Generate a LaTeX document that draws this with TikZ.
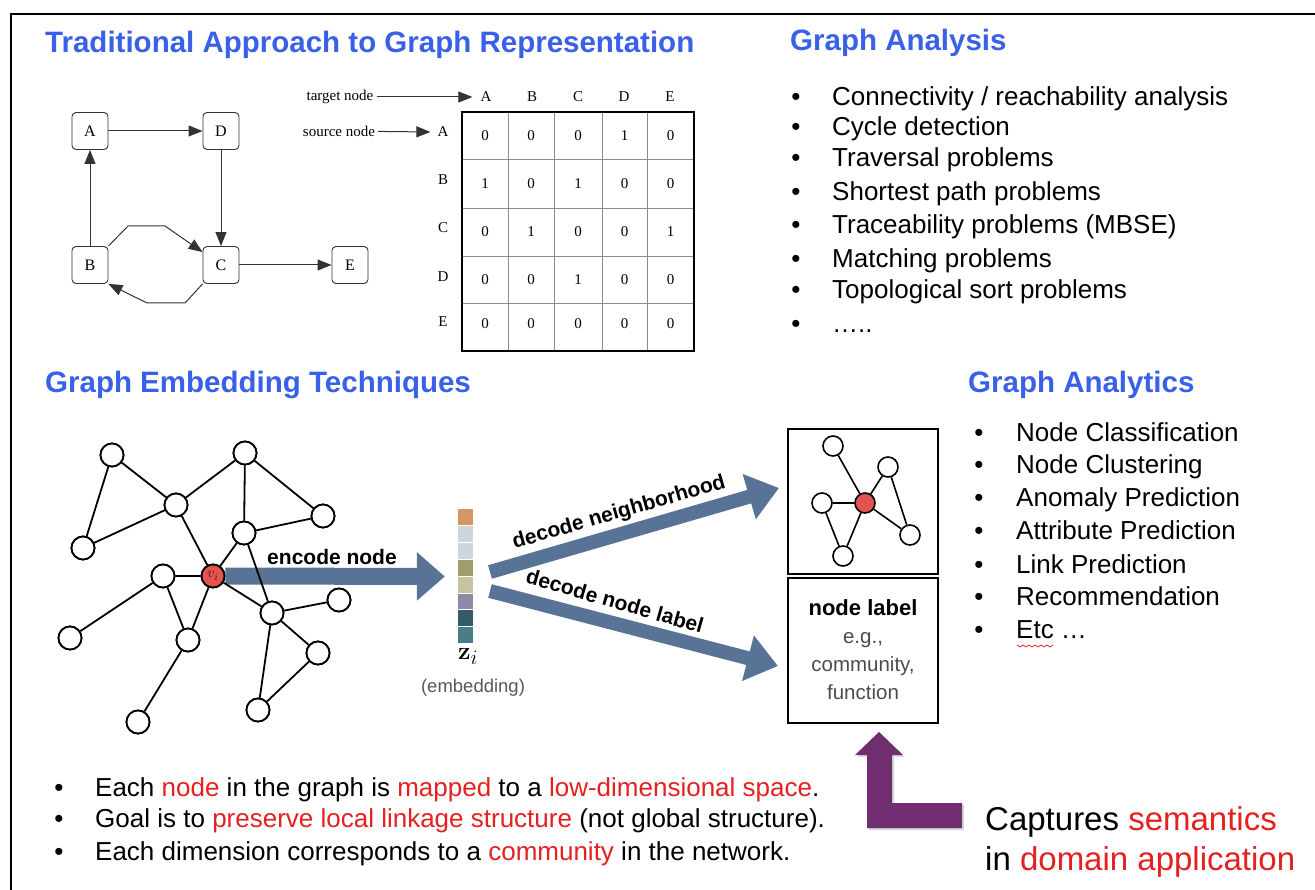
\documentclass[tikz,border=0pt]{standalone}
\usepackage[no-math]{fontspec}
\setmainfont{Liberation Sans}
\newfontfamily\timesfnt{Liberation Serif}
\usetikzlibrary{arrows.meta,calc}
\definecolor{hblue}{RGB}{56,96,232}
\definecolor{tred}{RGB}{228,32,32}
\definecolor{arrblue}{RGB}{88,115,150}
\definecolor{nred}{RGB}{226,84,80}
\definecolor{purp}{RGB}{112,46,112}
\definecolor{eA}{RGB}{214,150,100}
\definecolor{eB}{RGB}{206,214,220}
\definecolor{eC}{RGB}{158,158,110}
\definecolor{eD}{RGB}{196,196,158}
\definecolor{eE}{RGB}{140,138,165}
\definecolor{eF}{RGB}{52,92,104}
\definecolor{eG}{RGB}{74,124,140}
\begin{document}
\begin{tikzpicture}[x=1pt,y=-1pt,
  heading/.style={font=\fontsize{29.5}{34}\selectfont\bfseries, text=hblue, anchor=base west, inner sep=0},
  item/.style={font=\fontsize{26}{31}\selectfont, anchor=base west, inner sep=0},
  bul/.style={font=\fontsize{26}{31}\selectfont, anchor=base, inner sep=0},
  gnode/.style={draw=black!80, rounded corners=4pt, minimum width=36pt, minimum height=37pt, line width=0.9pt, font=\timesfnt\fontsize{16}{18}\selectfont, inner sep=0},
  garrow/.style={draw=black!80, line width=1pt, -{Triangle[length=14pt,width=11pt]}},
  mtxt/.style={font=\timesfnt\fontsize{15}{17}\selectfont, inner sep=1pt},
  cnode/.style={circle, draw, line width=1.8pt, minimum size=23pt, inner sep=0, fill=white},
  snode/.style={circle, draw, line width=1.6pt, minimum size=20pt, inner sep=0, fill=white},
  cedge/.style={line width=1.8pt},
  bigarrow/.style={draw=arrblue},
  lbl/.style={font=\fontsize{21}{24}\selectfont\bfseries, inner sep=0}
]
\useasboundingbox (0,0) rectangle (1315,890);
\fill[white] (0,0) rectangle (1315,890);
\draw[line width=2.6pt] (11,890) -- (11,14) -- (1315,14);

% headings
\node[heading] (h1) at (45,53) {Traditional Approach to Graph Representation};
\node[heading] (h2) at (790,51) {Graph Analysis};
\node[heading] (h3) at (45,393) {Graph Embedding Techniques};
\node[heading] (h4) at (968,393) {Graph Analytics};

% Graph Analysis list
\foreach \y [count=\i] in {106,136,167,201,234,268,299,333} {
  \node[bul] (ga\i) at (796,\y) {•};
}
\node[item] (gt1) at (832,106) {Connectivity / reachability analysis};
\node[item] (gt2) at (832,136) {Cycle detection};
\node[item] (gt3) at (832,167) {Traversal problems};
\node[item] (gt4) at (832,201) {Shortest path problems};
\node[item] (gt5) at (832,234) {Traceability problems (MBSE)};
\node[item] (gt6) at (832,268) {Matching problems};
\node[item] (gt7) at (832,299) {Topological sort problems};
\node[item] (gt8) at (832,333) {…..};

% Graph Analytics list
\foreach \y [count=\i] in {442,473,506,539,573,605,638} {
  \node[bul] (gb\i) at (979,\y) {•};
}
\node[item] (gu1) at (1016,442) {Node Classification};
\node[item] (gu2) at (1016,473) {Node Clustering};
\node[item] (gu3) at (1016,506) {Anomaly Prediction};
\node[item] (gu4) at (1016,539) {Attribute Prediction};
\node[item] (gu5) at (1016,573) {Link Prediction};
\node[item] (gu6) at (1016,605) {Recommendation};
\node[item] (gu7) at (1016,638) {Etc …};
\draw[tred, line width=0.8pt] (1017,645) \foreach \k in {1,...,12} {-- ++(3,{mod(\k,2)==1 ? 2 : -2})};

% bottom list
\foreach \y [count=\i] in {796,827,860} {
  \node[bul] (bb\i) at (59,\y) {•};
}
\node[item] (bt1) at (95,796) {Each \textcolor{tred}{node} in the graph is \textcolor{tred}{mapped} to a \textcolor{tred}{low-dimensional space}.};
\node[item] (bt2) at (95,827) {Goal is to \textcolor{tred}{preserve local linkage structure} (not global structure).};
\node[item] (bt3) at (95,860) {Each dimension corresponds to a \textcolor{tred}{community} in the network.};

% captures
\node[anchor=base west, inner sep=0, font=\fontsize{33}{38}\selectfont] (cap1) at (985,830) {Captures \textcolor{tred}{semantics}};
\node[anchor=base west, inner sep=0, font=\fontsize{33}{38}\selectfont] (cap2) at (985,870) {in \textcolor{tred}{domain application}};

% traditional graph
\node[gnode] (A) at (90,131) {A};
\node[gnode] (D) at (221,131) {D};
\node[gnode] (B) at (90,265) {B};
\node[gnode] (C) at (221,265) {C};
\node[gnode] (E) at (350,265) {E};
\draw[garrow] (A) -- (D);
\draw[garrow] (D) -- (C);
\draw[garrow] (B) -- (A);
\draw[garrow] (C) -- (E);
\draw[garrow] (B.north east) -- (128,226) -- (165,226) -- (C.145);
\draw[garrow] (C.south west) -- (185,303) -- (147,303) -- (B.south east);

% adjacency matrix
\draw[black!45, line width=0.9pt]
  (508,112) -- (508,351) (554,112) -- (554,351) (602,112) -- (602,351) (647,112) -- (647,351)
  (462,159) -- (694,159) (462,208) -- (694,208) (462,256) -- (694,256) (462,303) -- (694,303);
\draw[line width=2.2pt] (462,112) rectangle (694,351);
\foreach \x/\l in {486/A,532/B,578/C,624/D,670/E} {
  \node[mtxt] (h\l) at (\x,97) {\l};
}
\foreach \y/\l in {132/A,180/B,228/C,277/D,322/E} {
  \node[mtxt] (r\l) at (443,\y) {\l};
}
\foreach \y [count=\r] in {136,184,232,280,324} {
  \foreach \x [count=\c] in {485,531,578,624.5,670.5} {
    \pgfmathtruncatemacro\v{
      (\r==1 && \c==4) || (\r==2 && \c==1) || (\r==2 && \c==3) || (\r==3 && \c==2) || (\r==3 && \c==5) || (\r==4 && \c==3) ? 1 : 0}
    \node[mtxt] (v\r\c) at (\x,\y) {\v};
  }
}
\node[mtxt, inner sep=3pt] (tn) at (340,97) {target node};
\node[mtxt, inner sep=3pt] (sn) at (339,131) {source node};
\draw[garrow] (tn) -- ([xshift=-7pt]hA.west);
\draw[garrow] (sn) -- ([xshift=-6pt]rA.west);

% embedding vector
\node[inner sep=0, minimum width=15pt, minimum height=135pt] (emb) at (465.5,576.5) {};
\foreach \c [count=\i from 0] in {eA,eB,eB,eC,eD,eE,eF,eG} {
  \fill[\c] (458,{509+\i*16.9}) rectangle (473,{509+(\i+1)*16.9-1});
}
\node[inner sep=0, font=\fontsize{28}{30}\selectfont] (zi) at (468,656) {$\mathbf{z}_i$};
\node[inner sep=0, text=black!65, font=\fontsize{18.5}{22}\selectfont] (embl) at (473,688) {(embedding)};

% encode arrow
\node[cnode, fill=nred] (vi) at (213,576) {};
\draw[bigarrow, line width=17pt, -{Triangle[width=47pt,length=28pt]}] (vi.east) -- ([xshift=-13pt]emb.west);
\node[lbl] (enc) at (332,557) {encode node};

% decode arrows
\coordinate (d1s) at (490,572);
\coordinate (d1e) at (779,488);
\coordinate (d2s) at (490,591);
\coordinate (d2e) at (778,666);
\draw[bigarrow, line width=14pt, -{Triangle[width=45pt,length=31pt]}] (d1s) -- (d1e);
\draw[bigarrow, line width=14pt, -{Triangle[width=45pt,length=31pt]}] (d2s) -- (d2e);
\node[lbl, rotate=16] (dec1) at (619,513) {decode neighborhood};
\node[lbl, rotate=-16] (dec2) at (615,601) {decode node label};

% embedding graph
\node[cnode] (n1) at (112,455) {};
\node[cnode] (n2) at (245,453) {};
\node[cnode] (n3) at (176,505) {};
\node[cnode] (n4) at (323,516) {};
\node[cnode] (n5) at (244,533) {};
\node[cnode] (n6) at (83,548) {};
\node[cnode] (n7) at (163,576) {};
\node[cnode] (n8) at (339,600) {};
\node[cnode] (n9) at (272,613) {};
\node[cnode] (n10) at (70,638) {};
\node[cnode] (n11) at (188,640) {};
\node[cnode] (n12) at (318,653) {};
\node[cnode] (n13) at (258,710) {};
\node[cnode] (n14) at (138,722) {};
\draw[cedge] (n1) -- (n3) (n1) -- (n6) (n6) -- (n3) (n3) -- (n2) (n3) -- (vi)
  (n2) -- (n5) (n2) -- (n4) (n5) -- (n4) (n5) -- (vi) (n5) -- (n9)
  (vi) -- (n7) (vi) -- (n9) (vi) -- (n11) (n7) -- (n11) (n7) -- (n10)
  (n11) -- (n14) (n9) -- (n8) (n9) -- (n12) (n9) -- (n13) (n12) -- (n13);
\foreach \n in {n1,n2,n3,n4,n5,n6,n7,n8,n9,n10,n11,n12,n13,n14} {
  \node[cnode] at (\n) {};
}
\node[cnode, fill=nred] at (vi) {\textcolor{black!60!red}{\fontsize{15}{16}\selectfont$v_i$}};

% right boxes
\node[draw, line width=2.5pt, minimum width=150pt, minimum height=145pt, inner sep=0] (boxN) at (863,501.5) {};
\node[draw, line width=2.5pt, minimum width=150pt, minimum height=145pt, inner sep=0] (boxL) at (863,650.5) {};
\node[snode] (s1) at (833,446) {};
\node[snode] (s2) at (888,467) {};
\node[snode] (s3) at (822,503) {};
\node[snode, fill=nred] (sr) at (865,503) {};
\node[snode] (s4) at (910,535) {};
\node[snode] (s5) at (843,556) {};
\draw[line width=1.6pt] (s1) -- (sr) (s3) -- (sr) (s3) -- (s5) (s5) -- (sr) (sr) -- (s2) (s2) -- (s4) (sr) -- (s4);
\node[inner sep=0, anchor=base, font=\fontsize{22}{26}\selectfont\bfseries] (nl1) at (863,615) {node label};
\node[inner sep=0, anchor=base, text=black!70, font=\fontsize{20.5}{24}\selectfont] (nl2) at (863,643) {e.g.,};
\node[inner sep=0, anchor=base, text=black!70, font=\fontsize{20.5}{24}\selectfont] (nl3) at (863,671) {community,};
\node[inner sep=0, anchor=base, text=black!70, font=\fontsize{20.5}{24}\selectfont] (nl4) at (863,699) {function};

% purple L arrow
\fill[black!30, opacity=0.5] (869,757) -- (857,757) -- (881,734) -- (905,757) -- (894,757) -- (894,805) -- (964,805) -- (964,830) -- (869,830) -- cycle;
\fill[purp] (867,755) -- (855,755) -- (879,732) -- (903,755) -- (892,755) -- (892,803) -- (962,803) -- (962,828) -- (867,828) -- cycle;
\end{tikzpicture}
\end{document}
